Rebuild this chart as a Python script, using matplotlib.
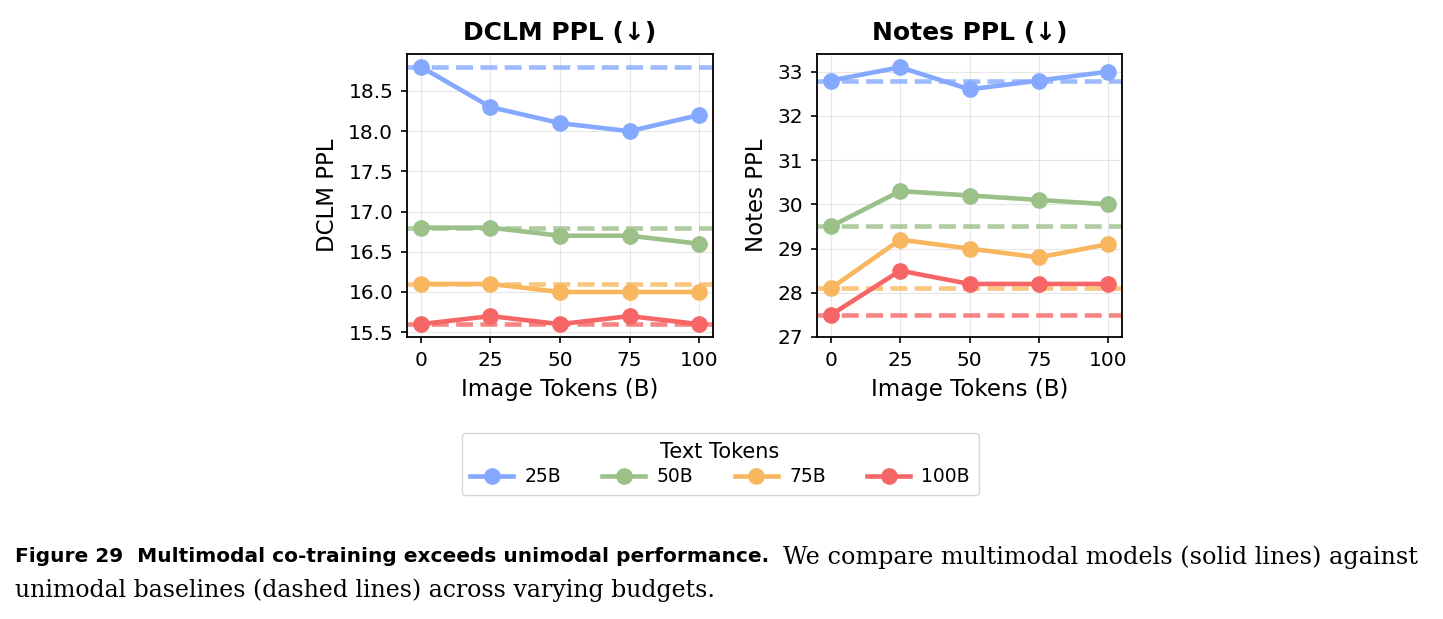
import matplotlib.pyplot as plt

# image tokens (B)
image_tokens = [0, 25, 50, 75, 100]
text_tokens = ['25B', '50B', '75B', '100B']
colors = ['#85A9FF', '#9BC088', '#F8B75F', '#F76666']

# DCLM PPL: multimodal runs and text-only baselines
dclm = [
    [18.8, 18.3, 18.1, 18.0, 18.2],
    [16.8, 16.8, 16.7, 16.7, 16.6],
    [16.1, 16.1, 16.0, 16.0, 16.0],
    [15.6, 15.7, 15.6, 15.7, 15.6],
]
dclm_base = [18.8, 16.8, 16.1, 15.6]
dclm_ticks = [15.5, 16.0, 16.5, 17.0, 17.5, 18.0, 18.5]

# Notes PPL
notes = [
    [32.8, 33.1, 32.6, 32.8, 33.0],
    [29.5, 30.3, 30.2, 30.1, 30.0],
    [28.1, 29.2, 29.0, 28.8, 29.1],
    [27.5, 28.5, 28.2, 28.2, 28.2],
]
notes_base = [32.8, 29.5, 28.1, 27.5]
notes_ticks = [27, 28, 29, 30, 31, 32, 33]

W, H = 1443, 619
fig = plt.figure(figsize=(W / 100, H / 100), dpi=100)

def px_axes(x0, y0, x1, y1):
    return fig.add_axes([x0 / W, 1 - y1 / H, (x1 - x0) / W, (y1 - y0) / H])

ax1 = px_axes(407, 54, 713, 337)
ax2 = px_axes(817, 54, 1122, 337)

handles = []
for ax, vals, base, ticks, title, ylab in [
        (ax1, dclm, dclm_base, dclm_ticks, 'DCLM PPL (↓)', 'DCLM PPL'),
        (ax2, notes, notes_base, notes_ticks, 'Notes PPL (↓)', 'Notes PPL')]:
    for i in range(len(text_tokens)):
        h, = ax.plot(image_tokens, vals[i], '-o', color=colors[i], lw=3.3, ms=11, label=text_tokens[i], zorder=3)
        ax.axhline(base[i], color=colors[i], lw=3.3, ls='--', alpha=0.8, zorder=2)
        if ax is ax1:
            handles.append(h)
    ax.set_title(title, fontsize=18, fontweight='bold', pad=10)
    ax.set_xlabel('Image Tokens (B)', fontsize=16.5, labelpad=6)
    ax.set_ylabel(ylab, fontsize=16.5, labelpad=7)
    ax.set_xticks(image_tokens)
    ax.set_yticks(ticks)
    ax.tick_params(labelsize=14.5, length=4.4, width=1.2, pad=5.5)
    for s in ax.spines.values():
        s.set_linewidth(1.3)
    ax.grid(True, alpha=0.3)

ax2.set_ylim(27, 33.4)

fig.legend(handles=handles, title='Text Tokens', loc='center', ncol=4,
           bbox_to_anchor=(720 / W, 1 - 464 / H), fontsize=13.5, title_fontsize=15,
           columnspacing=2.2, handlelength=2.3, handletextpad=0.6,
           borderpad=0.45, labelspacing=0.3)

fig.text(15 / W, 1 - 557 / H, 'Figure 29  Multimodal co-training exceeds unimodal performance.',
         fontsize=14.5, fontweight='bold', family='DejaVu Sans', va='center')
fig.text(783 / W, 1 - 557 / H, 'We compare multimodal models (solid lines) against',
         fontsize=17.2, family='DejaVu Serif', va='center')
fig.text(15 / W, 1 - 590 / H, 'unimodal baselines (dashed lines) across varying budgets.',
         fontsize=17, family='DejaVu Serif', va='center')

fig.savefig('out.png', dpi=100)
